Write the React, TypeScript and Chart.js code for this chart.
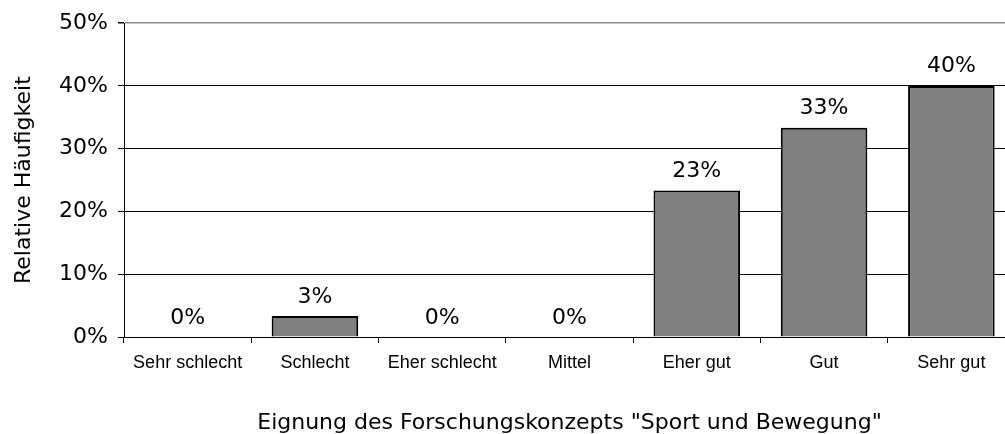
import React, { useEffect, useRef } from "react";
import { Chart, registerables } from "chart.js";

Chart.register(...registerables);

const categories = ["Sehr schlecht", "Schlecht", "Eher schlecht", "Mittel", "Eher gut", "Gut", "Sehr gut"];
const values = [0, 3.33, 0, 0, 23.33, 33.33, 40];
const yTicks = [0, 10, 20, 30, 40, 50];
const yTitle = "Relative Häufigkeit";
const xTitle = 'Eignung des Forschungskonzepts "Sport und Bewegung"';

const FONT = "'DejaVu Sans', Verdana, sans-serif";

const labelPlugin = {
  id: "barLabels",
  afterDatasetsDraw(chart: any) {
    const ctx = chart.ctx;
    const meta = chart.getDatasetMeta(0);
    ctx.save();
    ctx.font = `22px ${FONT}`;
    ctx.fillStyle = "#000";
    ctx.textAlign = "center";
    ctx.textBaseline = "alphabetic";
    meta.data.forEach((bar: any, i: number) => {
      const v = chart.data.datasets[0].data[i] as number;
      ctx.fillText(Math.round(v) + "%", bar.x, bar.y - 13.5);
    });
    ctx.restore();
  },
};

export default function App() {
  const ref = useRef<HTMLCanvasElement>(null);
  useEffect(() => {
    if (!ref.current) return;
    const chart = new Chart(ref.current, {
      type: "bar",
      data: {
        labels: categories,
        datasets: [
          {
            data: values,
            backgroundColor: "#808080",
            borderColor: "#000",
            borderWidth: 2,
            barPercentage: 0.68,
            categoryPercentage: 1,
          },
        ],
      },
      plugins: [labelPlugin],
      options: {
        responsive: false,
        animation: false,
        devicePixelRatio: 1,
        layout: { padding: { top: 20, right: 5, left: 0, bottom: 0 } },
        plugins: { legend: { display: false }, tooltip: { enabled: false } },
        scales: {
          x: {
            type: "category",
            grid: {
              offset: true,
              drawOnChartArea: false,
              drawTicks: true,
              tickLength: 6,
              color: "#000",
              lineWidth: 1,
            },
            border: { display: true, color: "#000", width: 1 },
            ticks: {
              font: { family: "'Liberation Sans', Arial, sans-serif", size: 18 },
              color: "#000",
              padding: 9,
              maxRotation: 0,
              autoSkip: false,
            },
            title: {
              display: true,
              text: xTitle,
              font: { family: FONT, size: 22, lineHeight: 1 },
              color: "#000",
              padding: { top: 0, bottom: 0 },
            },
            afterFit(scale: any) {
              scale.height = 97;
            },
          },
          y: {
            min: 0,
            max: 50,
            afterBuildTicks(scale: any) {
              scale.ticks = yTicks.map((v) => ({ value: v }));
            },
            grid: {
              color: (c: any) => (c.tick && c.tick.value === 50 ? "#8c8c8c" : "#000"),
              lineWidth: (c: any) => (c.tick && c.tick.value === 50 ? 1.5 : 1),
              tickColor: "#000",
              tickLength: 6,
            },
            border: { display: true, color: "#000", width: 1 },
            ticks: {
              font: { family: FONT, size: 22 },
              color: "#000",
              padding: 10,
              callback: (v: any) => v + "%",
            },
            title: {
              display: true,
              text: yTitle,
              font: { family: FONT, size: 22, lineHeight: 1 },
              color: "#000",
              padding: { top: 13, bottom: 0 },
            },
            afterFit(scale: any) {
              scale.width = 124;
            },
          },
        },
      },
    });
    return () => chart.destroy();
  }, []);
  return (
    <div style={{ position: "fixed", left: 0, top: 0, width: 1005, height: 434, overflow: "hidden", background: "#fff" }}>
      <canvas ref={ref} width={1020} height={434} style={{ display: "block" }} />
    </div>
  );
}
